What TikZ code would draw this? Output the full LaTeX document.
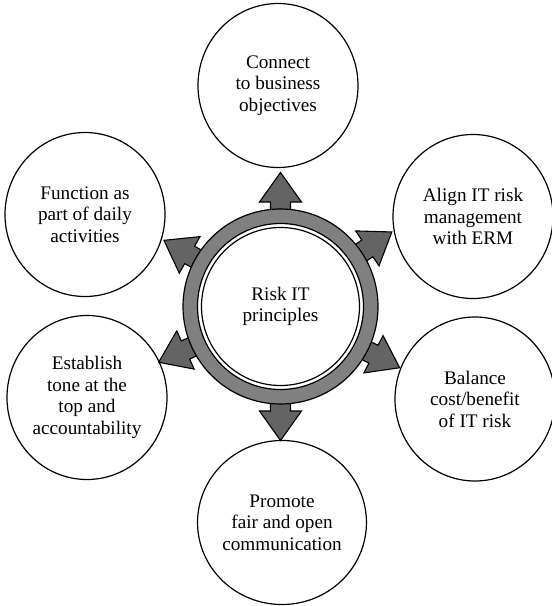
\documentclass[tikz,border=0pt]{standalone}
\usepackage{fontspec}
\setmainfont{Liberation Serif}
\usetikzlibrary{shapes.geometric}
\definecolor{ringgray}{RGB}{128,128,128}
\definecolor{arrowgray}{RGB}{100,100,100}
\begin{document}
\begin{tikzpicture}[x=1pt,y=-1pt,
  txt/.style={align=center, font=\fontsize{19.2}{21.5}\selectfont},
  sat/.style={txt, draw, line width=1.2pt, ellipse, minimum width=160pt, minimum height=164pt, inner sep=0pt, fill=white},
  blockarrow/.style={draw, line width=1.1pt, fill=arrowgray, line join=miter},
  ring/.style={draw, line width=1.2pt, fill=ringgray, even odd rule}]
\useasboundingbox (0,0) rectangle (552,606);
\node[sat] (obj) at (278,85.5) {Connect\\to business\\objectives};
\node[sat] (erm) at (473,216.5) {Align IT risk\\management\\with ERM};
\node[sat] (cost) at (475,399) {Balance\\cost/benefit\\of IT risk};
\node[sat] (comm) at (282,522.5) {Promote\\fair and open\\communication};
\node[sat] (tone) at (87,397.5) {Establish\\tone at the\\top and\\accountability};
\node[sat] (daily) at (85,214.5) {Function as\\part of daily\\activities};
\coordinate (c) at (280.5,306.5);
\foreach \a in {90,33.8,-27.2,-90,150.4,204.6}{
  \begin{scope}[shift={(c)}, rotate=\a]
    \draw[blockarrow] (85,10) -- (104.5,10) -- (104.5,21) -- (134,0) -- (104.5,-21) -- (104.5,-10) -- (85,-10) -- cycle;
  \end{scope}
}
\path[ring] (c) circle[radius=97.5pt] (c) circle[radius=83pt];
\node[txt, draw, circle, line width=1.2pt, minimum size=158pt, inner sep=0pt, fill=white] (ctr) at (c) {Risk IT\\principles};
\end{tikzpicture}
\end{document}
